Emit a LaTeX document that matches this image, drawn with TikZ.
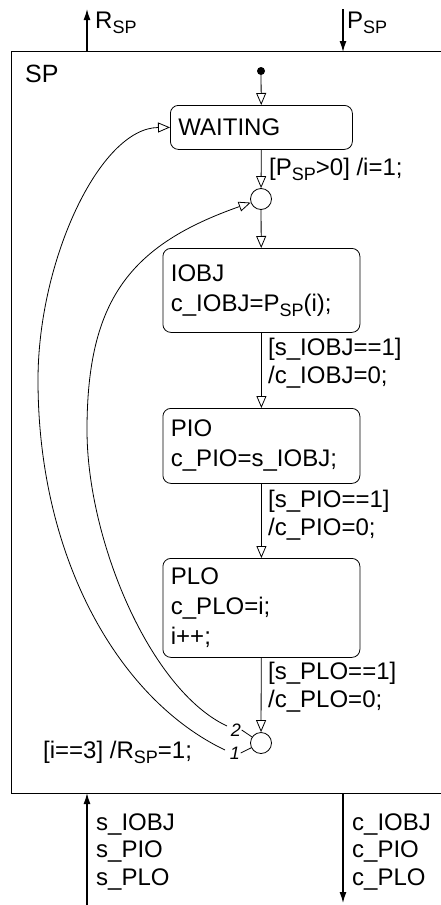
\documentclass[tikz,border=0pt]{standalone}
\usepackage{fontspec}
\setmainfont{Liberation Sans}
\usetikzlibrary{arrows.meta}
\newcommand\subsp[1]{\raisebox{-5pt}{\fontsize{18}{18}\selectfont #1}}
\begin{document}
\begin{tikzpicture}[x=1pt,y=-1pt,
  txt/.style={font=\fontsize{24}{27.5}\selectfont, inner sep=0pt},
  statebox/.style={draw, rounded corners=8pt, line width=0.8pt, font=\fontsize{24}{30}\selectfont, align=left, inner xsep=8pt, inner ysep=0pt, anchor=north west},
  junc/.style={draw, circle, minimum size=21pt, inner sep=0pt, line width=0.8pt},
  tr/.style={line width=0.8pt, -{Triangle[open,length=12pt,width=10pt]}},
  sig/.style={line width=1.3pt, -{Latex[length=11pt,width=7pt]}},
  num/.style={font=\fontsize{18}{18}\selectfont\itshape, inner sep=0.5pt},
]
\useasboundingbox (0,0) rectangle (441,905);

% frame
\node[draw, line width=1.2pt, minimum width=440pt, minimum height=742pt, inner sep=0pt, anchor=north west] (frame) at (11,51) {};
\node[font=\fontsize{25}{25}\selectfont, anchor=base west, inner sep=0pt] (splbl) at (25,82) {SP};

% interface signals
\coordinate (rin) at (87,51);
\coordinate (rout) at (87,9);
\draw[sig] (rin) -- (rout);
\node[txt, anchor=base west] (rsp) at (95,28) {R\subsp{SP}};
\coordinate (pout) at (343,9);
\coordinate (pin) at (343,52);
\draw[sig] (pout) -- (pin);
\node[txt, anchor=base west] (psp) at (347,28) {P\subsp{SP}};

\coordinate (sb) at (87,906);
\coordinate (st) at (87,793);
\draw[sig] (sb) -- (st);
\node[txt, align=left, anchor=base west, font=\fontsize{24}{27.5}\selectfont] (slbl) at (96,885) {s\_IOBJ\\s\_PIO\\s\_PLO};
\coordinate (ct) at (343,793);
\coordinate (cb) at (343,903);
\draw[sig] (ct) -- (cb);
\node[txt, align=left, anchor=base west, font=\fontsize{24}{27.5}\selectfont] (clbl) at (352,885) {c\_IOBJ\\c\_PIO\\c\_PLO};

% states
\node[fill, circle, inner sep=0pt, minimum size=8pt] (init) at (261,71) {};
\node[statebox, text width=166pt, minimum height=44pt] (w) at (170,105) {WAITING};
\node[junc] (tj) at (261,199) {};
\node[statebox, text width=181pt, minimum height=84pt] (iobj) at (162.5,248) {IOBJ\\c\_IOBJ=P\subsp{SP}(i);};
\node[statebox, text width=181pt, minimum height=75pt] (pio) at (162.5,408) {PIO\\c\_PIO=s\_IOBJ;};
\node[statebox, text width=181pt, minimum height=99pt] (plo) at (162.5,558) {PLO\\c\_PLO=i;\\i++;};
\node[junc] (bj) at (261,743) {};

\draw[tr] (init) -- (w);
\draw[tr] (w) -- (tj);
\draw[tr] (tj) -- (iobj);
\draw[tr] (iobj) -- (pio);
\draw[tr] (pio) -- (plo);
\draw[tr] (plo) -- (bj);

% transition labels
\node[txt, anchor=base west] (lb0) at (269,175) {[P\subsp{SP}>0] /i=1;};
\node[txt, anchor=base west, align=left] (lb1) at (268,383) {[s\_IOBJ==1]\\/c\_IOBJ=0;};
\node[txt, anchor=base west, align=left] (lb2) at (268,535) {[s\_PIO==1]\\/c\_PIO=0;};
\node[txt, anchor=base west, align=left] (lb3) at (268,707) {[s\_PLO==1]\\/c\_PLO=0;};
\node[txt, anchor=base west] (lb4) at (43,758) {[i==3] /R\subsp{SP}=1;};

% loop-back connectors
\node[num] (l2) at (236,730) {2};
\node[num] (l1) at (235,753) {1};
\draw[line width=0.8pt] (l2.east) -- (bj);
\draw[line width=0.8pt] (l1.east) -- (bj);
\coordinate (c2s) at (227,726);
\coordinate (c1s) at (225,750);
\draw[tr] (c2s) .. controls (150,690) and (87,540) .. (87,430) .. controls (87,300) and (130,245) .. (tj);
\draw[tr] (c1s) .. controls (120,700) and (38,560) .. (38,380) .. controls (38,260) and (100,128) .. (w.west);
\end{tikzpicture}
\end{document}
